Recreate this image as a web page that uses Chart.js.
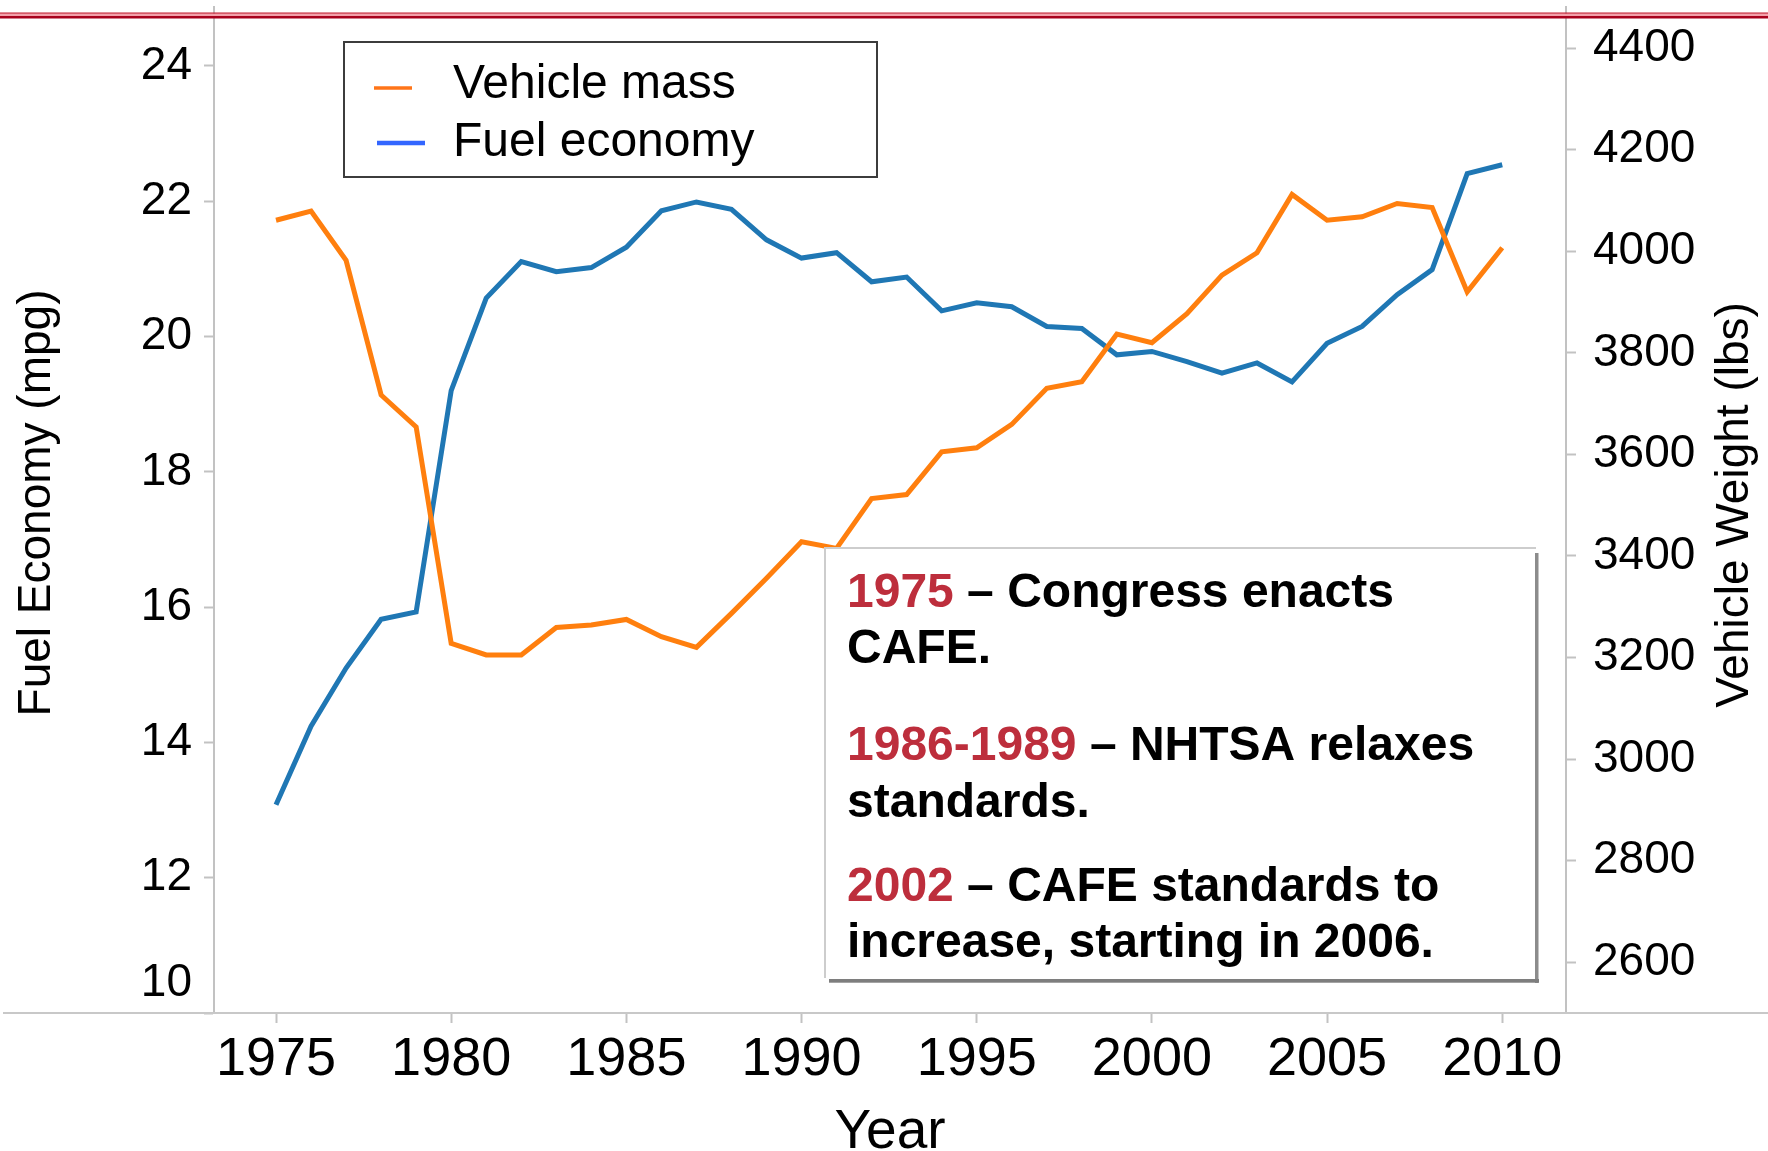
<!DOCTYPE html>
<html>
<head>
<meta charset="utf-8">
<script src="https://cdn.jsdelivr.net/npm/chart.js@4/dist/chart.umd.min.js"></script>
<style>
html,body{margin:0;padding:0;background:#fff;}
canvas{display:block;}
</style>
</head>
<body>
<canvas id="c" width="1768" height="1151"></canvas>
<script>
// ---------- data ----------
const years = [1975,1976,1977,1978,1979,1980,1981,1982,1983,1984,1985,1986,1987,1988,1989,1990,1991,1992,1993,1994,1995,1996,1997,1998,1999,2000,2001,2002,2003,2004,2005,2006,2007,2008,2009,2010];
const fuelEconomy = [13.08,14.24,15.10,15.82,15.93,19.20,20.57,21.11,20.96,21.02,21.32,21.86,21.99,21.88,21.43,21.16,21.24,20.81,20.88,20.38,20.50,20.44,20.15,20.12,19.73,19.78,19.63,19.46,19.61,19.33,19.90,20.15,20.62,20.99,22.41,22.54];
const vehicleMass = [4061,4079,3982,3717,3654,3228,3205,3205,3259,3264,3275,3241,3220,3287,3356,3428,3415,3513,3521,3605,3613,3659,3730,3743,3837,3820,3877,3953,3997,4112,4061,4068,4094,4086,3920,4007];
const xTickYears = [1975,1980,1985,1990,1995,2000,2005,2010];
const mpgTicks = [10,12,14,16,18,20,22,24];
const weightTicks = [2600,2800,3000,3200,3400,3600,3800,4000,4200,4400];
const seriesNames = ['Vehicle mass','Fuel economy'];
const xTitle = 'Year';
const leftTitle = 'Fuel Economy (mpg)';
const rightTitle = 'Vehicle Weight (lbs)';
const notes = [
  ['1975', ' \u2013 Congress enacts', 'CAFE.'],
  ['1986-1989', ' \u2013 NHTSA relaxes', 'standards.'],
  ['2002', ' \u2013 CAFE standards to', 'increase, starting in 2006.']
];

// ---------- styling ----------
const FONT = "'Liberation Sans', Arial, Helvetica, sans-serif";
const AXIS_GRAY = '#c2c2c2';
const NOTE_RED = '#bd2e3c';

const decor = {
  id: 'decor',
  afterDraw(chart) {
    const ctx = chart.ctx;
    const ca = chart.chartArea;
    const W = chart.width;
    ctx.save();

    // long horizontal baseline of the x axis
    ctx.strokeStyle = '#c8c8c8';
    ctx.lineWidth = 2;
    ctx.beginPath();
    ctx.moveTo(3, ca.bottom);
    ctx.lineTo(W, ca.bottom);
    ctx.stroke();

    // '10' label sits above the bottom edge
    const yL = chart.scales.yL;
    ctx.fillStyle = '#000';
    ctx.font = `46px ${FONT}`;
    ctx.textAlign = 'right';
    ctx.textBaseline = 'middle';
    ctx.fillText(String(mpgTicks[0]), yL.right - 22, yL.getPixelForValue(mpgTicks[0]) - 30);

    // rotated axis titles
    ctx.font = `46px ${FONT}`;
    ctx.textAlign = 'center';
    ctx.textBaseline = 'alphabetic';
    ctx.save();
    ctx.translate(50, 503);
    ctx.rotate(-Math.PI / 2);
    ctx.fillText(leftTitle, 0, 0);
    ctx.restore();
    ctx.save();
    ctx.translate(1748, 505);
    ctx.rotate(-Math.PI / 2);
    ctx.fillText(rightTitle, 0, 0);
    ctx.restore();

    // legend box
    ctx.fillStyle = '#fff';
    ctx.fillRect(344, 42, 533, 135);
    ctx.strokeStyle = '#3c3c3c';
    ctx.lineWidth = 2;
    ctx.strokeRect(344, 42, 533, 135);
    const ds = chart.data.datasets;
    const legendRows = [
      {x0: 374, x1: 412, y: 88, w: 3.5, ty: 98},
      {x0: 377, x1: 425, y: 143, w: 4.5, ty: 156}
    ];
    ctx.font = `48px ${FONT}`;
    ctx.textAlign = 'left';
    ctx.textBaseline = 'alphabetic';
    ds.forEach((d, i) => {
      const r = legendRows[i];
      ctx.strokeStyle = d.legendColor;
      ctx.lineWidth = r.w;
      ctx.beginPath();
      ctx.moveTo(r.x0, r.y);
      ctx.lineTo(r.x1, r.y);
      ctx.stroke();
      ctx.fillStyle = '#000';
      ctx.fillText(d.label, 453, r.ty);
    });

    // annotation box
    ctx.fillStyle = '#fff';
    ctx.fillRect(825, 548, 711, 432);
    ctx.fillStyle = '#8c8c8c';
    ctx.fillRect(1535, 553, 3.5, 430);
    ctx.fillStyle = '#7e7e7e';
    ctx.fillRect(829, 979, 710, 3.7);
    ctx.strokeStyle = '#cdcdcd';
    ctx.lineWidth = 2;
    ctx.beginPath();
    ctx.moveTo(825, 978);
    ctx.lineTo(825, 548);
    ctx.lineTo(1536, 548);
    ctx.stroke();

    const baselines = [[607, 663], [760, 817], [901, 957]];
    ctx.font = `bold 48px ${FONT}`;
    ctx.textAlign = 'left';
    notes.forEach((n, i) => {
      const [b1, b2] = baselines[i];
      ctx.fillStyle = NOTE_RED;
      ctx.fillText(n[0], 847, b1);
      const w = ctx.measureText(n[0]).width;
      ctx.fillStyle = '#000';
      ctx.fillText(n[1], 847 + w, b1);
      ctx.fillText(n[2], 847, b2);
    });

    // decorative red rule at the very top
    ctx.fillStyle = '#c41a2e';
    ctx.fillRect(0, 12.5, W, 1.3);
    ctx.fillStyle = '#f3a0aa';
    ctx.fillRect(0, 13.8, W, 2.2);
    ctx.fillStyle = '#a8001c';
    ctx.fillRect(0, 16, W, 2.5);

    ctx.restore();
  }
};

function zeroPad(scale) {
  scale.paddingTop = 0; scale.paddingBottom = 0;
  scale.paddingLeft = 0; scale.paddingRight = 0;
}

const chart = new Chart(document.getElementById('c'), {
  type: 'line',
  data: {
    datasets: [
      {
        label: seriesNames[0],
        data: years.map((y, i) => ({x: y, y: vehicleMass[i]})),
        yAxisID: 'yR',
        borderColor: '#ff7f0e',
        legendColor: '#ff7518',
        borderWidth: 5,
        pointRadius: 0,
        tension: 0,
        fill: false
      },
      {
        label: seriesNames[1],
        data: years.map((y, i) => ({x: y, y: fuelEconomy[i]})),
        yAxisID: 'yL',
        borderColor: '#1f77b4',
        legendColor: '#3366ff',
        borderWidth: 5,
        pointRadius: 0,
        tension: 0,
        fill: false
      }
    ]
  },
  options: {
    responsive: false,
    devicePixelRatio: 1,
    animation: false,
    layout: {padding: {top: 7, left: 0, right: 0, bottom: 0}},
    plugins: {legend: {display: false}, tooltip: {enabled: false}},
    scales: {
      x: {
        type: 'linear',
        position: 'bottom',
        min: 1973.23,
        max: 2011.82,
        afterBuildTicks: s => { s.ticks = xTickYears.map(v => ({value: v})); },
        afterFit: s => { s.height = 138; zeroPad(s); },
        grid: {display: true, drawOnChartArea: false, drawTicks: true, tickLength: 10, tickColor: AXIS_GRAY, tickWidth: 2},
        border: {display: false},
        ticks: {
          autoSkip: false, maxRotation: 0, minRotation: 0, padding: 5,
          color: '#000', font: {family: FONT, size: 54},
          callback: v => String(v)
        },
        title: {
          display: true, text: xTitle, color: '#000',
          font: {family: FONT, size: 55, lineHeight: 0.65},
          padding: {top: 0, bottom: 0}
        }
      },
      yL: {
        type: 'linear',
        position: 'left',
        min: 10,
        max: 24.872,
        afterBuildTicks: s => { s.ticks = mpgTicks.map(v => ({value: v})); },
        afterFit: s => { s.width = 214; zeroPad(s); },
        grid: {display: true, drawOnChartArea: false, drawTicks: true, tickLength: 10, tickColor: AXIS_GRAY, tickWidth: 2},
        border: {display: true, color: AXIS_GRAY, width: 2},
        ticks: {
          padding: 12, color: '#000', font: {family: FONT, size: 46},
          callback: v => (v === mpgTicks[0] ? '' : String(v))
        }
      },
      yR: {
        type: 'linear',
        position: 'right',
        min: 2500,
        max: 4481,
        afterBuildTicks: s => { s.ticks = weightTicks.map(v => ({value: v})); },
        afterFit: s => { s.width = 202; zeroPad(s); },
        grid: {display: true, drawOnChartArea: false, drawTicks: true, tickLength: 10, tickColor: AXIS_GRAY, tickWidth: 2},
        border: {display: true, color: AXIS_GRAY, width: 2},
        ticks: {
          padding: 17, color: '#000', font: {family: FONT, size: 46},
          callback: v => String(v)
        }
      }
    }
  },
  plugins: [decor]
});
</script>
</body>
</html>
